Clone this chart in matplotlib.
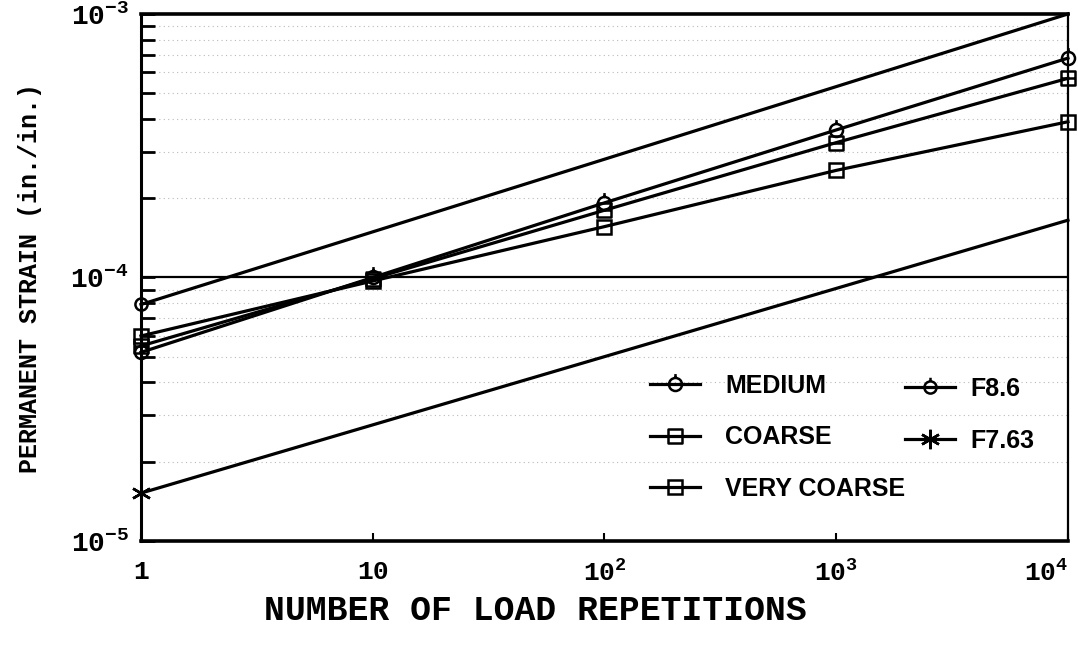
import math
import matplotlib
matplotlib.use("Agg")
import matplotlib.pyplot as plt
from matplotlib.path import Path
from matplotlib.ticker import LogLocator, FixedLocator, FuncFormatter, NullFormatter

plt.rcParams['mathtext.fontset'] = 'custom'
plt.rcParams['mathtext.rm'] = 'Liberation Mono:bold'
plt.rcParams['mathtext.it'] = 'Liberation Mono:bold'
plt.rcParams['mathtext.bf'] = 'Liberation Mono:bold'

# load repetitions and permanent strain for each gradation
reps = [1, 10, 100, 1000, 10000]
medium = [5.2e-5, 1.0e-4, 1.92e-4, 3.63e-4, 6.8e-4]
coarse = [5.5e-5, 0.99e-4, 1.8e-4, 3.25e-4, 5.7e-4]
very_coarse = [6.0e-5, 0.97e-4, 1.56e-4, 2.55e-4, 3.9e-4]

# fitted lines (end points)
fit_reps = [1, 10000]
f86 = [7.9e-5, 1.0e-3]
f763 = [1.52e-5, 1.65e-4]

x_ticks = [1, 10, 100, 1000, 10000]
x_labels = ['1', '10', r'$10^{2}$', r'$10^{3}$', r'$10^{4}$']

# marker shapes
MV, LT, CP = Path.MOVETO, Path.LINETO, Path.CLOSEPOLY
m_medium = Path.make_compound_path(Path.unit_circle(),
                                   Path([[0, 1.0], [0, 1.6]], [MV, LT]))
m_coarse = Path([[-1, -1], [1, -1], [1, 1], [-1, 1], [-1, -1], [-1, 0], [1, 0]],
                [MV, LT, LT, LT, CP, MV, LT])

fig = plt.figure(figsize=(10.78, 6.47), dpi=100)
ax = fig.add_axes([0.1308, 0.1638, 0.8599, 0.8146])
ax.set_xscale('log')
ax.set_yscale('log')
ax.set_xlim(1, 1e4)
ax.set_ylim(1e-5, 1e-3)

lw = 2.3
kw = dict(color='black', lw=lw, mfc='none', mec='black', mew=1.8, clip_on=False)
h_med, = ax.plot(reps, medium, marker=m_medium, ms=15, label='MEDIUM', **kw)
h_co, = ax.plot(reps, coarse, marker=m_coarse, ms=10, label='COARSE', **kw)
h_vc, = ax.plot(reps, very_coarse, marker='s', ms=10, label='VERY COARSE', **kw)
h_86, = ax.plot(fit_reps, f86, marker=m_medium, ms=14, markevery=[0], label='F8.6', **kw)
h_763, = ax.plot(fit_reps, f763, marker=(6, 2, 0), ms=14, markevery=[0], label='F7.63', **kw)

ax.axhline(1e-4, color='black', lw=1.6)

# faint dotted grid
ax.yaxis.set_minor_locator(LogLocator(base=10, subs=range(2, 10)))
ax.yaxis.set_minor_formatter(NullFormatter())
ax.yaxis.grid(True, which='minor', color='0.55', linestyle=(0, (1, 3)), lw=0.8, alpha=0.6)

ax.xaxis.set_major_locator(FixedLocator(x_ticks))
ax.xaxis.set_minor_locator(FixedLocator([]))
ax.set_xticklabels(x_labels)
ax.yaxis.set_major_formatter(FuncFormatter(lambda v, p: r'$10^{%d}$' % round(math.log10(v))))

ax.tick_params(axis='x', which='major', direction='in', length=6, width=1.5, pad=14, labelsize=19)
ax.tick_params(axis='y', which='major', direction='in', length=10, width=2, pad=9, labelsize=20)
ax.tick_params(axis='y', which='minor', direction='in', length=10, width=2)
for lab in ax.get_xticklabels() + ax.get_yticklabels():
    lab.set_fontfamily('Liberation Mono')
    lab.set_fontweight('bold')
ax.get_xticklabels()[-1].set_horizontalalignment('right')

for side, w in [('left', 2.2), ('bottom', 2.6), ('top', 2.6), ('right', 1.6)]:
    ax.spines[side].set_linewidth(w)

leg_font = {'family': 'Liberation Sans', 'weight': 'bold', 'size': 18}
leg1 = fig.legend(handles=[h_med, h_co, h_vc], loc='upper left',
                  bbox_to_anchor=(650 / 1078, 1 - 374 / 647), frameon=False,
                  prop=leg_font, handlelength=2.0, handletextpad=1.0,
                  labelspacing=1.1, borderpad=0, borderaxespad=0)
leg2 = fig.legend(handles=[h_86, h_763], loc='upper left',
                  bbox_to_anchor=(905 / 1078, 1 - 377 / 647), frameon=False,
                  prop=leg_font, handlelength=2.0, handletextpad=0.6,
                  labelspacing=1.1, borderpad=0, borderaxespad=0)

fig.text(535 / 1078, 1 - 610 / 647, 'NUMBER OF LOAD REPETITIONS', ha='center', va='center',
         family='Liberation Mono', weight='bold', size=25)
fig.text(30 / 1078, 1 - 278 / 647, 'PERMANENT STRAIN (in./in.)', ha='center', va='center',
         rotation=90, family='Liberation Mono', weight='bold', size=18)

fig.savefig('out.png', dpi=100)
